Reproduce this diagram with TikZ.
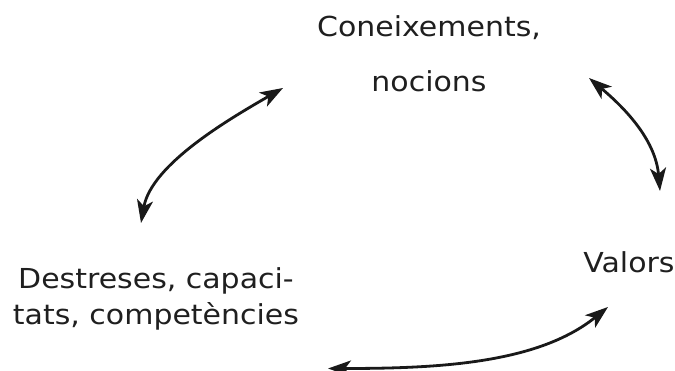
\documentclass[tikz,border=0pt]{standalone}
\usepackage{fontspec}
\setmainfont{DejaVu Sans}[FakeStretch=1.09]
\usetikzlibrary{arrows.meta}
\begin{document}
\begin{tikzpicture}[x=1pt,y=1pt,
  lbl/.style={inner sep=0pt, text=black!88, align=center},
  dbl/.style={line width=2.8pt, black!90, {Stealth[length=23pt,width=16pt,inset=6pt]}-{Stealth[length=23pt,width=16pt,inset=6pt]}}]
\useasboundingbox (0,0) rectangle (675,370);
\node[lbl, anchor=base, font=\fontsize{27.5}{55}\selectfont] (con) at (429,278) {Coneixements,\\nocions};
\node[lbl, anchor=base, font=\fontsize{27.5}{36}\selectfont] (val) at (629,98) {Valors};
\node[lbl, anchor=base, font=\fontsize{27.5}{36}\selectfont] (des) at (156,46) {Destreses, capaci-\\tats, competències};
\coordinate (cl) at (283,282);
\coordinate (dl) at (141,147);
\coordinate (cr) at (589,292);
\coordinate (vr) at (660,179);
\coordinate (db) at (328,1.5);
\coordinate (vb) at (608,63);
\draw[dbl] (dl) .. controls +(80:60) and +(210:60) .. (cl);
\draw[dbl] (cr) .. controls +(-40:50) and +(95:50) .. (vr);
\draw[dbl] (db) .. controls +(0:110) and +(219:90) .. (vb);
\end{tikzpicture}
\end{document}
